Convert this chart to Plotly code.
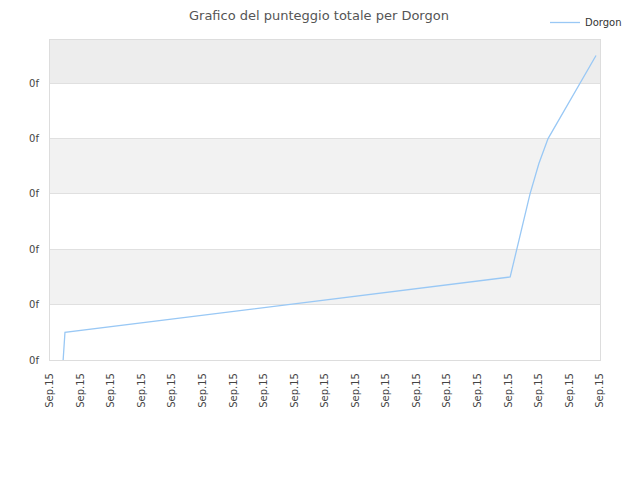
import plotly.graph_objects as go

# x positions measured in tick steps (19 ticks, all labelled "Sep.15")
x_vals = [0.43, 0.49, 15.06, 15.71, 16.0, 16.3, 17.87]
y_vals = [0.0, 0.5, 1.5, 3.0, 3.55, 4.0, 5.5]

tick_pos = list(range(19))
tick_text = ['Sep.15'] * 19
y_ticks = [0, 1, 2, 3, 4, 5]
y_text = ['0f'] * 6

fig = go.Figure()

fig.add_trace(go.Scatter(
    x=x_vals, y=y_vals,
    mode='lines',
    name='Dorgon',
    line=dict(width=1.3, color='#99c8f5')
))

# alternating background bands
band_cols = ['white', '#f2f2f2', 'white', '#f2f2f2', 'white', '#ededed']
band_edges = [0, 1, 2, 3, 4, 5, 5.78]
for i, c in enumerate(band_cols):
    fig.add_shape(type='rect', xref='paper', yref='y', x0=0, x1=1,
                  y0=band_edges[i], y1=band_edges[i + 1],
                  fillcolor=c, line=dict(width=0), layer='below')

# page body adds an 8px margin, so the figure is a bit smaller than the window
fig.update_layout(
    width=632, height=472,
    margin=dict(l=42, r=40, t=32, b=120, autoexpand=False),
    paper_bgcolor='white', plot_bgcolor='white',
    font=dict(family='DejaVu Sans', size=10, color='#444'),
    title=dict(text='Grafico del punteggio totale per Dorgon', x=0.492, xref='container',
               xanchor='center', y=0.985, yanchor='middle',
               font=dict(size=13, color='#555')),
    showlegend=True,
    legend=dict(x=0.90, xanchor='left', y=1.0, yanchor='top', yref='container',
                bgcolor='rgba(0,0,0,0)', font=dict(size=10, color='#333'),
                itemwidth=30),
    xaxis=dict(range=[0, 18], tickvals=tick_pos, ticktext=tick_text, tickangle=-90,
               showgrid=False, zeroline=False, showline=True, linecolor='#dddddd',
               mirror=True, ticks='', ticklabelstandoff=8,
               tickfont=dict(size=10, color='#444')),
    yaxis=dict(range=[0, 5.78], tickvals=y_ticks, ticktext=y_text,
               showgrid=True, gridcolor='#e0e0e0', zeroline=False, showline=True,
               linecolor='#dddddd', mirror=True, ticks='', ticklabelstandoff=8,
               tickfont=dict(size=10, color='#444')),
)

fig.write_html("out.html")
